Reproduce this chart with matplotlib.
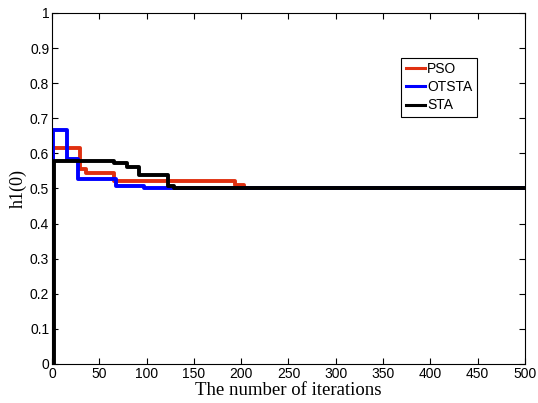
import matplotlib
matplotlib.use("Agg")
import matplotlib.pyplot as plt

# step change points (iteration) and the value held from that point on
pso_iter = [0, 1, 30, 36, 65, 193, 203, 500]
pso_val = [0.0, 0.615, 0.555, 0.545, 0.52, 0.51, 0.5, 0.5]

otsta_iter = [0, 1, 16, 27, 68, 97, 500]
otsta_val = [0.0, 0.668, 0.585, 0.527, 0.507, 0.5, 0.5]

sta_iter = [0, 2, 65, 79, 92, 123, 129, 500]
sta_val = [0.0, 0.577, 0.572, 0.56, 0.538, 0.508, 0.5, 0.5]

xticks = [0, 50, 100, 150, 200, 250, 300, 350, 400, 450, 500]
yticks = [0, 0.1, 0.2, 0.3, 0.4, 0.5, 0.6, 0.7, 0.8, 0.9, 1]

fig = plt.figure(figsize=(5.38, 4.03), dpi=100)
ax = fig.add_axes([0.0967, 0.0968, 0.879, 0.871])

ax.plot(pso_iter, pso_val, drawstyle='steps-post', color='#e03010', lw=2.8, label='PSO')
ax.plot(otsta_iter, otsta_val, drawstyle='steps-post', color='#0000ff', lw=2.8, label='OTSTA')
ax.plot(sta_iter, sta_val, drawstyle='steps-post', color='black', lw=2.8, label='STA')

ax.set_xlim(0, 500)
ax.set_ylim(0, 1)
ax.set_xticks(xticks)
ax.set_yticks(yticks)
ax.set_yticklabels(['0', '0.1', '0.2', '0.3', '0.4', '0.5', '0.6', '0.7', '0.8', '0.9', '1'])
ax.tick_params(direction='in', top=True, right=True, length=4, labelsize=10, pad=2)
for lab in ax.get_xticklabels() + ax.get_yticklabels():
    lab.set_family('Liberation Sans')

ax.set_xlabel('The number of iterations', family='Liberation Serif', fontsize=13.5, labelpad=1)
ax.set_ylabel('h1(0)', family='Liberation Serif', fontsize=13, labelpad=2)

leg = ax.legend(loc='upper left', bbox_to_anchor=(0.739, 0.872), fancybox=False,
                framealpha=1, edgecolor='black', handlelength=1.4, handletextpad=0.15,
                borderpad=0.3, labelspacing=0.3, borderaxespad=0,
                prop={'family': 'Liberation Sans', 'size': 10})
leg.get_frame().set_linewidth(0.8)
for h in leg.get_lines():
    h.set_linewidth(2.2)

fig.savefig('out.png', dpi=100)
